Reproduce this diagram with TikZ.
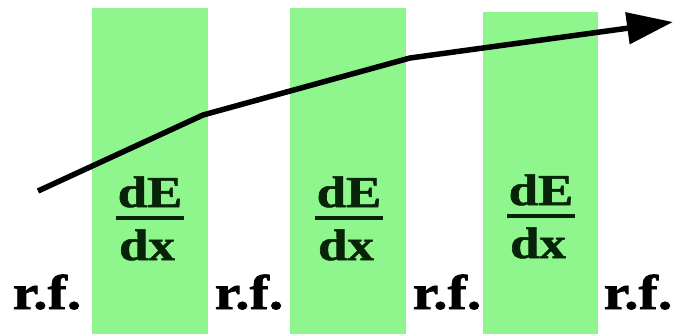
\documentclass[tikz,border=0pt]{standalone}
\usepackage{fontspec}
\setmainfont{Liberation Serif}
\newfontfamily\heavyserif{Liberation Serif Bold}[FakeBold=1.2]
\usetikzlibrary{arrows.meta}
\definecolor{slab}{RGB}{142,246,140}
\definecolor{ink}{RGB}{8,36,8}
\tikzset{
  slabbox/.style={fill=slab, draw=none},
  fraclbl/.style={inner sep=0pt, anchor=base, text=ink, font=\heavyserif\fontsize{44}{48}\selectfont},
  rflbl/.style={inner sep=0pt, anchor=base, font=\heavyserif\fontsize{49}{52}\selectfont},
  bar/.style={line width=4pt, draw=ink},
  track/.style={line width=5.5pt, line join=round, -{Triangle[length=46pt,width=31pt]}}
}
\begin{document}
\begin{tikzpicture}[x=1pt,y=-1pt]
\useasboundingbox (0,0) rectangle (677,334);
\fill[white] (0,0) rectangle (677,334);
% slabs
\path[slabbox] (92,8) rectangle (208,334);
\path[slabbox] (290,8) rectangle (406,334);
\path[slabbox] (483,12) rectangle (598,334);
% dE/dx labels
\foreach \i/\cx/\dy in {1/150/0, 2/349/0, 3/541/-2}{
  \node[fraclbl] (num\i) at (\cx,207+\dy) {\scalebox{1.2}[1]{dE}};
  \coordinate (bl\i) at (\cx-34,218+\dy);
  \coordinate (br\i) at (\cx+34,218+\dy);
  \draw[bar] (bl\i) -- (br\i);
  \node[fraclbl] (den\i) at (\cx-3,260+\dy) {\scalebox{1.2}[1]{dx}};
}
% r.f. labels
\foreach \i/\cx in {1/47, 2/249, 3/447, 4/638}{
  \node[rflbl] (rf\i) at (\cx,309) {\scalebox{1.18}[1]{r.f.}};
}
% particle track
\coordinate (s0) at (38,191);
\coordinate (s1) at (203,115);
\coordinate (s2) at (410,58);
\coordinate (s3) at (673,22);
\draw[track] (s0) -- (s1) -- (s2) -- (s3);
\end{tikzpicture}
\end{document}
